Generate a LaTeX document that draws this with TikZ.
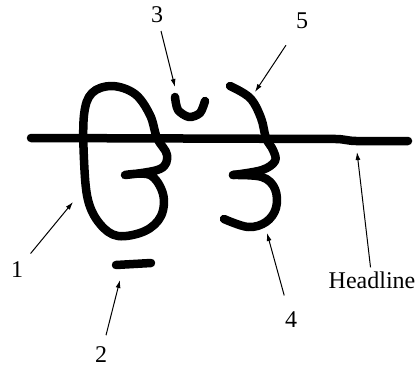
\documentclass[tikz,border=0pt]{standalone}
\usepackage{fontspec}
\setmainfont{Liberation Serif}
\usetikzlibrary{arrows.meta}

\begin{document}
\begin{tikzpicture}[x=1pt,y=-1pt,
        pen/.style={line width=8.5pt,line cap=round,line join=round},
        lbl/.style={inner sep=1pt,font=\fontsize{24}{24}\selectfont},
        ptr/.style={-{Latex[length=8pt,width=5pt]},line width=1pt}]
       \useasboundingbox (0,0) rectangle (417,369);

       % headline
       \draw[pen] (31,138) -- (336,139) to[out=0,in=180] (356,141) -- (408,141);
       % left letter
       \draw[pen] plot[smooth,tension=0.6] coordinates {(125,175) (150,175) (163,194) (161,216)
            (145,231) (118,236) (100,224) (88,200) (84,160) (84,115) (92,93) (112,86) (135,94)
            (150,115) (157,138) (167,155) (160,169) (125,175)};
       % dot below and half moon above
       \draw[pen] (116,265) -- (151,263);
       \draw[pen] plot[smooth] coordinates {(175,97) (178,110) (189,117) (200,113) (205,101)};
       % right letter
       \draw[pen] plot[smooth,tension=0.6] coordinates {(230,86) (250,98) (261,118) (266,138)
            (273,150) (275,161) (262,170) (233,175)};
       \draw[pen] plot[smooth,tension=0.6] coordinates {(233,175) (262,177) (275,189) (276,208)
            (266,222) (248,227) (224,219)};

       \coordinate (t1) at (73,202);
       \coordinate (t2) at (120,280);
       \coordinate (t3) at (175,87);
       \coordinate (t4) at (267,233);
       \coordinate (t5) at (255,92);
       \coordinate (th) at (357,152);

       \node[lbl] (l1) at (17,270) {1};
       \node[lbl] (l2) at (101,355) {2};
       \node[lbl] (l3) at (157,15) {3};
       \node[lbl] (l4) at (291,320) {4};
       \node[lbl] (l5) at (302,21) {5};
       \node[lbl] (lh) at (372,280) {Headline};

       \path[ptr]
       (l1) edge[shorten <=10pt] (t1)
       (l2) edge[shorten <=11pt] (t2)
       (l3) edge[shorten <=7pt] (t3)
       (l4) edge[shorten <=16pt] (t4)
       (l5) edge[shorten <=18pt] (t5)
       (lh) edge[shorten <=3pt] (th);
    \end{tikzpicture}
\end{document}
